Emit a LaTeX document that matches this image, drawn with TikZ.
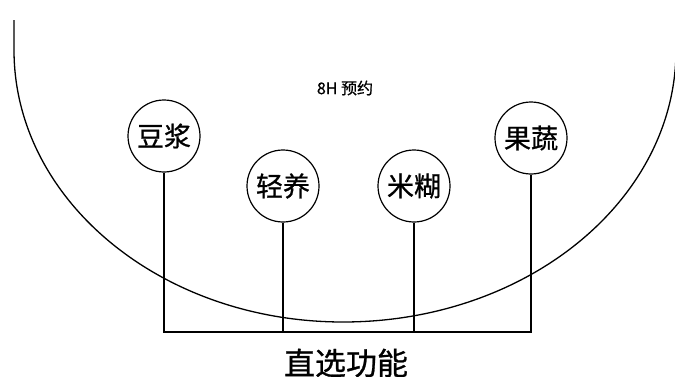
\documentclass[tikz,border=0pt]{standalone}
\usepackage{fontspec}
\setmainfont{Noto Sans CJK SC}[FakeBold = 0.8, AutoFakeBold = 0.8]
\usetikzlibrary{calc}
\tikzset{mode/.style = {draw, circle, line width = 1.2pt, minimum size = 72pt, inner sep = 0pt, font = \fontsize{27}{30}\selectfont\bfseries}}
\tikzset{wire/.style = {line width = 1.1pt}}

\begin{document}
\begin{tikzpicture}[x = 1pt, y = 1pt]
\useasboundingbox (0,0) rectangle (675,376);
\draw [line width = 1.3pt] (14,356) -- (14,326) arc [start angle = 180, end angle = 270, x radius = 329, y radius = 272]
  arc [start angle = 270, end angle = 360, x radius = 333, y radius = 272] -- (676,376);
\node (timer) at (345,288) {\fontsize{16}{18}\selectfont\bfseries 8H 预约};
\node [mode] (doujiang) at (164,240) {豆浆};
\node [mode] (qingyang) at (283,190) {轻养};
\node [mode] (mihu) at (414,190) {米糊};
\node [mode] (guoshu) at (531,238) {果蔬};
\coordinate (bl) at (164,44);
\coordinate (br) at (531,44);
\draw [wire] (doujiang) -- (bl) -- (br) -- (guoshu);
\draw [wire] (qingyang) -- (qingyang |- bl);
\draw [wire] (mihu) -- (mihu |- bl);
\node (direct) at (346,13) {\fontsize{31}{34}\selectfont 直选功能};
\end{tikzpicture}
\end{document}
